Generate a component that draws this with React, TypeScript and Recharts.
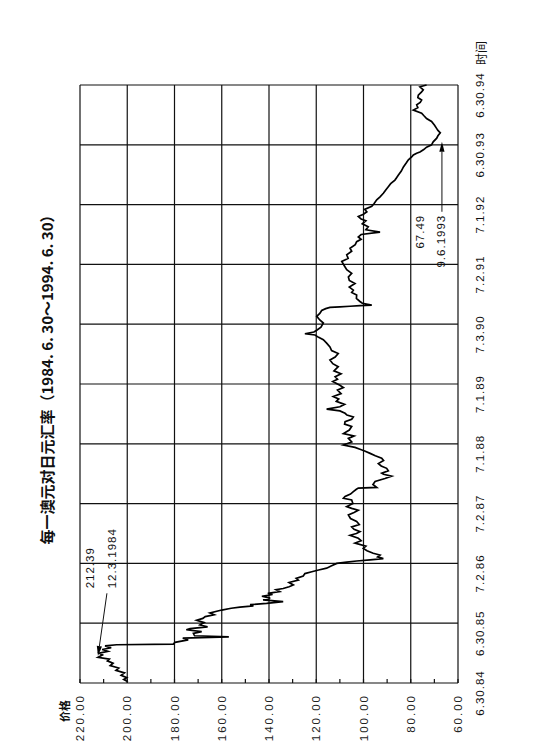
import React from 'react';
import { LineChart, Line, XAxis, YAxis, CartesianGrid, ReferenceLine } from 'recharts';

// AUD/JPY (decimal year, yen per AUD)
const dates = [
  // 1984.6 - 1985.6
  1984.52, 1984.56, 1984.59, 1984.63, 1984.67, 1984.71, 1984.75, 1984.79, 1984.83, 1984.87,
  1984.90, 1984.93, 1984.97, 1985.00, 1985.03, 1985.06, 1985.09, 1985.12, 1985.14, 1985.15,
  1985.18, 1985.22, 1985.25, 1985.27, 1985.29, 1985.33, 1985.36, 1985.39, 1985.41, 1985.44,
  1985.47,
  // 1985.6 - 1986.6
  1985.51, 1985.55, 1985.58, 1985.61, 1985.64, 1985.67, 1985.72, 1985.75, 1985.77, 1985.79,
  1985.81, 1985.83, 1985.86, 1985.89, 1985.92, 1985.95, 1985.98, 1986.00, 1986.03, 1986.06,
  1986.08, 1986.11, 1986.14, 1986.18, 1986.22, 1986.25, 1986.29, 1986.33, 1986.36, 1986.39,
  1986.42, 1986.46,
  // 1986.6 - 1987.6
  1986.50, 1986.52, 1986.54, 1986.56, 1986.58, 1986.61, 1986.64, 1986.67, 1986.71, 1986.75,
  1986.79, 1986.84, 1986.88, 1986.92, 1986.97, 1987.00, 1987.03, 1987.07, 1987.11, 1987.15,
  1987.20, 1987.25, 1987.31, 1987.35, 1987.39, 1987.42, 1987.45,
  // 1987.6 - 1988.6
  1987.50, 1987.56, 1987.59, 1987.62, 1987.66, 1987.70, 1987.74, 1987.76, 1987.77, 1987.82,
  1987.87, 1987.92, 1987.96, 1987.99, 1988.01, 1988.05, 1988.09, 1988.13, 1988.17, 1988.22,
  1988.26, 1988.30, 1988.34, 1988.38, 1988.41, 1988.44, 1988.48,
  // 1988.6 - 1989.6
  1988.53, 1988.59, 1988.63, 1988.67, 1988.73, 1988.79, 1988.83, 1988.87, 1988.91, 1988.95,
  1988.98, 1989.01, 1989.05, 1989.08, 1989.12, 1989.16, 1989.21, 1989.25, 1989.29, 1989.34,
  1989.40, 1989.44, 1989.48,
  // 1989.6 - 1990.6
  1989.54, 1989.58, 1989.62, 1989.67, 1989.72, 1989.79, 1989.84, 1989.90, 1989.95, 1990.01,
  1990.06, 1990.12, 1990.18, 1990.24, 1990.28, 1990.32, 1990.34, 1990.37, 1990.40, 1990.45,
  // 1990.6 - 1991.6
  1990.52, 1990.57, 1990.63, 1990.68, 1990.73, 1990.76, 1990.78, 1990.79, 1990.80, 1990.81,
  1990.82, 1990.85, 1990.88, 1990.93, 1990.99, 1991.03, 1991.07, 1991.12, 1991.18, 1991.23,
  1991.29, 1991.35, 1991.41, 1991.47,
  // 1991.6 - 1992.6
  1991.55, 1991.60, 1991.66, 1991.72, 1991.77, 1991.83, 1991.88, 1991.92, 1991.96, 1992.00,
  1992.04, 1992.08, 1992.13, 1992.18, 1992.23, 1992.26, 1992.30, 1992.34, 1992.38, 1992.42,
  1992.47,
  // 1992.6 - 1993.6
  1992.52, 1992.58, 1992.63, 1992.69, 1992.75, 1992.80, 1992.85, 1992.91, 1992.95, 1992.99,
  1993.06, 1993.13, 1993.19, 1993.25, 1993.30, 1993.33, 1993.36, 1993.38, 1993.42, 1993.46,
  // 1993.6 - 1994.6
  1993.50, 1993.55, 1993.61, 1993.65, 1993.70, 1993.74, 1993.77, 1993.83, 1993.89, 1993.94,
  1993.99, 1994.03, 1994.08, 1994.12, 1994.17, 1994.21, 1994.25, 1994.29, 1994.33, 1994.38,
  1994.42, 1994.47, 1994.50,
];

const rates = [
  199.7, 201.5, 200.2, 202.6, 201.2, 204.8, 203.6, 207.2, 206.0, 208.4,
  207.6, 212.39, 210.5, 211.8, 208.2, 210.6, 206.8, 209.4, 204.5, 180.5,
  179.8, 174.2, 176.5, 157.0, 171.5, 172.0, 168.5, 175.0, 173.4, 166.0,
  169.2,

  167.5, 170.6, 168.0, 167.0, 163.2, 165.0, 160.0, 156.0, 152.3, 146.6,
  148.0, 141.0, 134.0, 142.5, 139.5, 143.0, 138.5, 140.5, 135.5, 137.0,
  134.0, 131.5, 129.7, 131.5, 127.6, 128.5, 125.5, 124.8, 121.9, 119.0,
  115.6, 113.5,

  111.3, 107.1, 102.9, 97.2, 91.6, 94.0, 93.0, 95.9, 98.5, 100.1,
  99.0, 103.6, 101.0, 102.2, 105.7, 103.0, 101.5, 104.0, 105.0, 101.8,
  102.9, 105.5, 106.4, 104.0, 102.2, 105.0, 107.1,

  104.5, 105.0, 108.5, 107.8, 105.5, 104.3, 103.0, 102.2, 94.4, 96.0,
  95.1, 90.9, 88.1, 91.5, 92.3, 89.5, 90.2, 92.5, 93.7, 91.5,
  92.3, 95.0, 97.2, 99.5, 101.5, 103.6, 108.5,

  105.0, 106.4, 104.0, 108.5, 106.0, 105.0, 108.0, 107.8, 105.0, 104.3,
  107.0, 107.8, 110.0, 115.6, 110.0, 108.0, 111.5, 110.5, 112.8, 109.5,
  111.0, 108.5, 110.0,

  113.0, 111.0, 112.0, 109.5, 112.5, 110.7, 113.0, 114.2, 112.0, 110.7,
  113.5, 114.2, 115.5, 117.0, 119.0, 120.5, 124.8, 121.0, 119.8, 118.0,

  117.0, 118.5, 119.8, 118.5, 117.7, 116.0, 114.2, 110.0, 105.7, 101.5,
  96.5, 100.5, 101.5, 103.0, 102.9, 105.0, 104.3, 106.0, 103.6, 106.0,
  106.4, 105.0, 107.1, 108.0,

  109.2, 106.5, 107.1, 105.0, 105.7, 103.5, 102.9, 101.0, 102.2, 101.0,
  93.0, 99.0, 98.0, 100.5, 99.0, 101.0, 102.2, 100.0, 98.6, 99.5,
  96.5,

  95.5, 94.4, 93.0, 91.6, 90.5, 89.5, 88.5, 86.7, 86.0, 85.3,
  84.0, 83.1, 82.0, 81.0, 79.5, 78.9, 77.5, 76.1, 74.5, 73.3,

  71.2, 70.5, 69.0, 68.5, 67.49, 68.5, 69.0, 70.0, 71.2, 73.3,
  74.5, 75.4, 78.9, 77.0, 77.5, 76.0, 75.4, 77.0, 76.8, 75.5,
  74.7, 76.1, 73.3,
];

const tickDates = [1984.5, 1985.5, 1986.5, 1987.5, 1988.5, 1989.5, 1990.5, 1991.5, 1992.5, 1993.5, 1994.5];
const dateLabels = ['6.30.84', '6.30.85', '7.2.86', '7.2.87', '7.1.88', '7.1.89', '7.3.90', '7.2.91', '7.1.92', '6.30.93', '6.30.94'];
const rateTicks = [60, 70, 80, 90, 100, 110, 120, 130, 140, 150, 160, 170, 180, 190, 200, 210, 220];
const gridRates = [60, 80, 100, 120, 140, 160, 180, 200, 220];
const rateLabels = ['60.00', '80.00', '100.00', '120.00', '140.00', '160.00', '180.00', '200.00', '220.00'];

// annotation texts for the high and the low
const highNote = ['212.39', '12.3.1984'];
const lowNote = ['67.49', '9.6.1993'];

const data = dates.map((d, i) => ({ date: d, rate: rates[i] }));

const numFont = '"Liberation Sans", Arial, sans-serif';
const cjkFont = '"Noto Sans CJK SC", sans-serif';

const DateTick = (props: any) => {
  const { x, y, payload } = props;
  const i = tickDates.indexOf(payload.value);
  return (
    <g>
      <text x={x - 10} y={y} dy="0.71em" textAnchor="middle" fontSize={11.5} letterSpacing={1} fill="#111" fontFamily={numFont}>
        {dateLabels[i]}
      </text>
      {i === tickDates.length - 1 && (
        <text x={x + 20} y={y} dy="0.8em" textAnchor="start" fontSize={12} fill="#111" fontFamily={cjkFont}>
          时间
        </text>
      )}
    </g>
  );
};

const RateTick = (props: any) => {
  const { x, y, payload } = props;
  const i = gridRates.indexOf(payload.value);
  return (
    <g>
      <line x1={x + 11} y1={y} x2={x + 15} y2={y} stroke="#111" strokeWidth={1.2} />
      {i >= 0 && (
        <text x={x} y={y} dy="0.36em" textAnchor="end" fontSize={11.5} letterSpacing={2} fill="#222" fontFamily={numFont}>
          {rateLabels[i]}
        </text>
      )}
    </g>
  );
};

const arrowShape = (p: any, lines: string[], side: 'left' | 'right') => {
  const { x1, y1, x2, y2 } = p;
  const dx = x2 - x1;
  const dy = y2 - y1;
  const len = Math.hypot(dx, dy) || 1;
  const ux = dx / len;
  const uy = dy / len;
  const hl = 10;
  const hw = 2.6;
  const bx = x2 - ux * hl;
  const by = y2 - uy * hl;
  const pts = `${x2},${y2} ${bx - uy * hw},${by + ux * hw} ${bx + uy * hw},${by - ux * hw}`;
  const tx = side === 'left' ? x1 + 5 : x1 - 3;
  const anchor = side === 'left' ? 'start' : 'end';
  const rows = side === 'left' ? [y1 - 17, y1 + 5] : [y1 - 22, y1 - 1];
  return (
    <g>
      <line x1={x1} y1={y1} x2={bx} y2={by} stroke="#111" strokeWidth={1} />
      <polygon points={pts} fill="#000" />
      {lines.map((t, k) => (
        <text key={t} x={tx} y={rows[k]} dy="0.36em" textAnchor={anchor} fontSize={11.5} letterSpacing={1} fill="#111" fontFamily={numFont}>
          {t}
        </text>
      ))}
    </g>
  );
};

function RateChart() {
  return (
    <LineChart width={750} height={535} data={data} margin={{ top: 80, right: 85, bottom: 47, left: 7 }}>
      <CartesianGrid horizontalValues={gridRates} verticalValues={tickDates} stroke="#111" strokeWidth={1.2} />
      <XAxis
        dataKey="date"
        type="number"
        domain={[1984.5, 1994.5]}
        ticks={tickDates}
        interval={0}
        tick={(p: any) => <DateTick {...p} />}
        tickSize={0}
        tickMargin={18}
        axisLine={false}
        height={30}
      />
      <YAxis
        type="number"
        domain={[60, 220]}
        ticks={rateTicks}
        interval={0}
        tick={(p: any) => <RateTick {...p} />}
        tickSize={0}
        tickMargin={11}
        axisLine={false}
        width={60}
      />
      <Line type="linear" dataKey="rate" stroke="#000" strokeWidth={1.7} strokeLinejoin="miter" dot={false} isAnimationActive={false} />
      <ReferenceLine
        segment={[{ x: 1986.0, y: 208.6 }, { x: 1984.95, y: 212.39 }]}
        shape={(p: any) => arrowShape(p, highNote, 'left')}
      />
      <ReferenceLine
        segment={[{ x: 1992.38, y: 66.8 }, { x: 1993.55, y: 66.8 }]}
        shape={(p: any) => arrowShape(p, lowNote, 'right')}
      />
    </LineChart>
  );
}

export default function App() {
  return (
    <div style={{ position: 'absolute', left: 0, top: 0, width: 535, height: 750, overflow: 'hidden', background: '#fff' }}>
      <div
        style={{
          position: 'absolute',
          left: 0,
          top: 0,
          width: 750,
          height: 535,
          transformOrigin: '0 0',
          transform: 'translate(0px, 750px) rotate(-90deg)',
        }}
      >
        <div
          style={{
            position: 'absolute',
            left: 0,
            top: 37,
            width: 748,
            textAlign: 'center',
            fontFamily: cjkFont,
            fontWeight: 700,
            fontSize: 15,
            lineHeight: '20px',
            color: '#111',
          }}
        >
          每一澳元对日元汇率（1984. 6. 30～1994. 6. 30）
        </div>
        <div
          style={{
            position: 'absolute',
            left: 28,
            top: 56,
            fontFamily: cjkFont,
            fontWeight: 700,
            fontSize: 11,
            lineHeight: '16px',
            color: '#111',
          }}
        >
          价格
        </div>
        <RateChart />
      </div>
    </div>
  );
}
